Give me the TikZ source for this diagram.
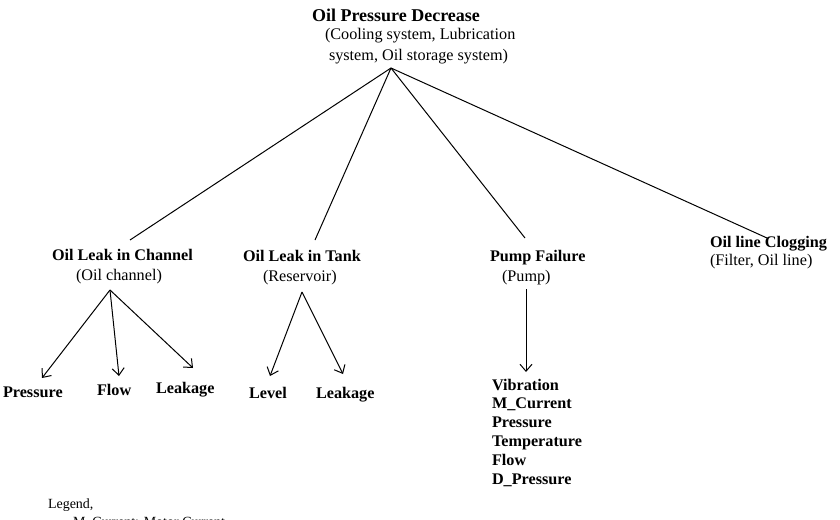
\documentclass[tikz,border=0pt]{standalone}
\usepackage{fontspec}
\setmainfont{Liberation Serif}
\usetikzlibrary{arrows.meta}
\begin{document}
\begin{tikzpicture}[x=1pt,y=-1pt,
  every node/.style={inner sep=0pt,outer sep=0pt,anchor=base west},
  titlef/.style={font=\fontsize{18}{21}\selectfont\bfseries},
  boldf/.style={font=\fontsize{16.2}{19}\selectfont\bfseries},
  regf/.style={font=\fontsize{16.2}{19}\selectfont},
  legf/.style={font=\fontsize{14}{17}\selectfont},
  conn/.style={line width=1pt},
  arr/.style={line width=1pt,-{Straight Barb[length=7pt,width=12pt,line width=1pt]}}]
\useasboundingbox (0,0) rectangle (840,519);
\clip (0,0) rectangle (840,519);
% top
\node[titlef] (t1) at (312,22) {Oil Pressure Decrease};
\node[regf] (t2) at (325,40) {(Cooling system, Lubrication};
\node[regf] (t3) at (329,60) {system, Oil storage system)};
\coordinate (apex) at (391,68);
% second level
\node[boldf] (c1) at (52,260) {Oil Leak in Channel};
\node[regf] (c2) at (76,280) {(Oil channel)};
\node[boldf] (k1) at (243,261) {Oil Leak in Tank};
\node[regf] (k2) at (263,281) {(Reservoir)};
\node[boldf] (p1) at (490,261) {Pump Failure};
\node[regf] (p2) at (502,281) {(Pump)};
\node[boldf] (g1) at (710,247) {Oil line Clogging};
\node[regf] (g2) at (710,265) {(Filter, Oil line)};
\coordinate (ce) at (130,240);
\coordinate (ke) at (315,240);
\coordinate (pe) at (525,238);
\coordinate (ge) at (767,238);
\draw[conn] (apex) -- (ce);
\draw[conn] (apex) -- (ke);
\draw[conn] (apex) -- (pe);
\draw[conn] (apex) -- (ge);
% leaves
\node[boldf] (l1) at (3,397) {Pressure};
\node[boldf] (l2) at (97,395) {Flow};
\node[boldf] (l3) at (156,393) {Leakage};
\node[boldf] (l4) at (249,398) {Level};
\node[boldf] (l5) at (316,398) {Leakage};
\node[boldf] (v1) at (492,390) {Vibration};
\node[boldf] (v2) at (492,408.8) {M\_Current};
\node[boldf] (v3) at (492,427.6) {Pressure};
\node[boldf] (v4) at (492,446.4) {Temperature};
\node[boldf] (v5) at (492,465.2) {Flow};
\node[boldf] (v6) at (492,484) {D\_Pressure};
\coordinate (ca) at (110,290);
\coordinate (ka) at (302,292);
\coordinate (pa) at (526,289);
\coordinate (a1) at (42,378);
\coordinate (a2) at (119,376);
\coordinate (a3) at (193,368);
\coordinate (a4) at (270,376);
\coordinate (a5) at (343,374);
\coordinate (a6) at (526,372);
\draw[arr] (ca) -- (a1);
\draw[arr] (ca) -- (a2);
\draw[arr] (ca) -- (a3);
\draw[arr] (ka) -- (a4);
\draw[arr] (ka) -- (a5);
\draw[arr] (pa) -- (a6);
% legend
\node[legf] (lg1) at (48,508) {Legend,};
\node[legf] (lg2) at (73,526) {M\_Current: Motor Current};
\end{tikzpicture}
\end{document}
